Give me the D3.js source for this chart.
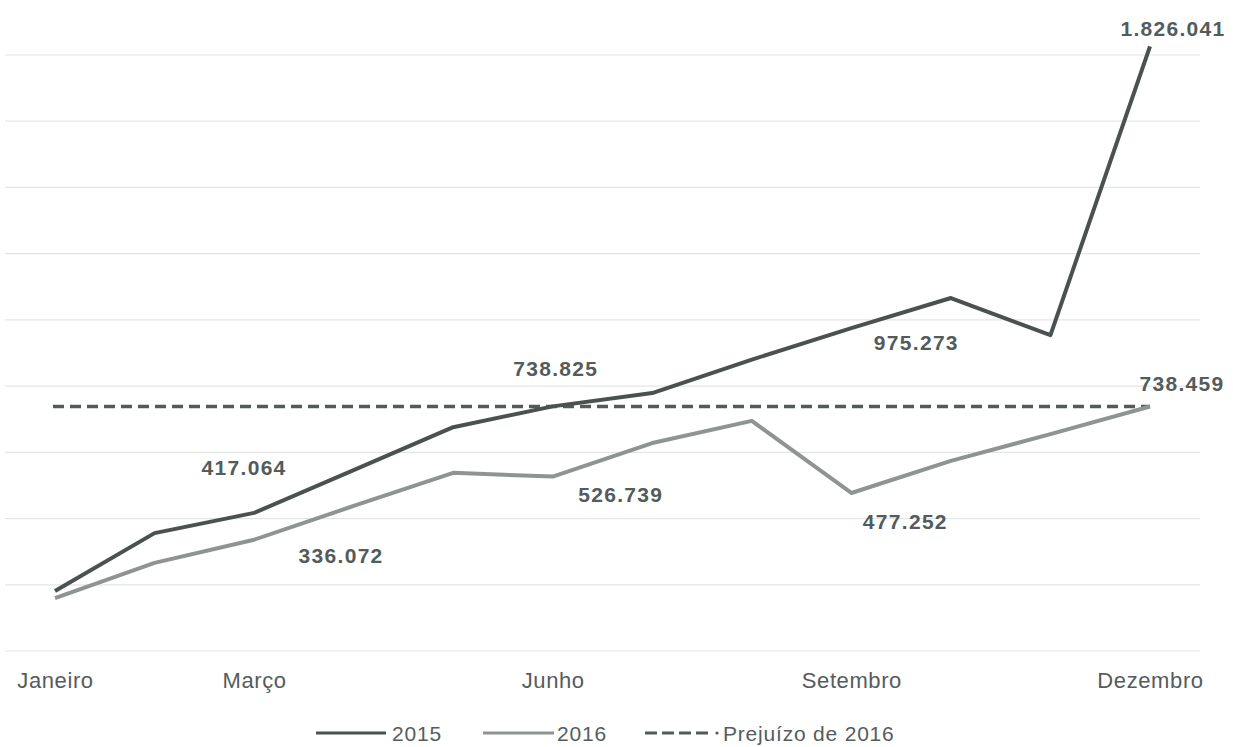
<!DOCTYPE html>
<html>
<head>
<meta charset="utf-8">
<script src="https://cdn.jsdelivr.net/npm/d3@7"></script>
<style>
  html, body { margin: 0; padding: 0; background: #fff; }
  svg { display: block; }
  text { font-family: "Liberation Sans", Arial, Helvetica, sans-serif; }
</style>
</head>
<body>
<svg id="chart" width="1233" height="747"></svg>
<script>
// Monthly values (R$)
const months = ["Janeiro", "Fevereiro", "Março", "Abril", "Maio", "Junho",
                "Julho", "Agosto", "Setembro", "Outubro", "Novembro", "Dezembro"];
const values2015 = [181000, 356000, 417064, 546000, 676000, 738825,
                    779000, 880000, 975273, 1066000, 954000, 1826041];
const values2016 = [160000, 266000, 336072, 438000, 538000, 526739,
                    628000, 695000, 477252, 574000, 655000, 738459];
const prejuizo2016 = 738459;
const shownMonths = ["Janeiro", "Março", "Junho", "Setembro", "Dezembro"];
const gridValues = [0, 200000, 400000, 600000, 800000, 1000000,
                    1200000, 1400000, 1600000, 1800000];
const legendLabels = ["2015", "2016", "Prejuízo de 2016"];

// Which points get a value label, and where the label sits relative to the point
const labelled = [
  { series: "2015", month: "Março",    dx: -10, dy: -45 },
  { series: "2016", month: "Março",    dx: 87,  dy: 16 },
  { series: "2015", month: "Junho",    dx: 3,   dy: -38 },
  { series: "2016", month: "Junho",    dx: 68,  dy: 18 },
  { series: "2015", month: "Setembro", dx: 65,  dy: 14 },
  { series: "2016", month: "Setembro", dx: 54,  dy: 29 },
  { series: "2015", month: "Dezembro", dx: 23,  dy: -18 },
  { series: "2016", month: "Dezembro", dx: 32,  dy: -23 }
];

const fmt = d3.formatLocale({ decimal: ",", thousands: ".", grouping: [3], currency: ["R$", ""] }).format(",d");

const svg = d3.select("#chart");

const x = d3.scalePoint().domain(months).range([55, 1150]);
const y = d3.scaleLinear().domain([0, 1800000]).range([651, 55]);

const col2015 = "#4b5151";
const col2016 = "#8f9393";
const colDash = "#535a5a";
const colText = "#535b5b";

// horizontal gridlines
svg.append("g")
  .selectAll("line")
  .data(gridValues)
  .join("line")
  .attr("x1", 5).attr("x2", 1200)
  .attr("y1", d => y(d)).attr("y2", d => y(d))
  .attr("stroke", "#e4e6e6")
  .attr("stroke-width", 1.2);

// month axis
const axis = svg.append("g")
  .attr("transform", `translate(0,${y(0)})`)
  .call(d3.axisBottom(x).tickValues(shownMonths).tickSize(0));
axis.select(".domain").remove();
axis.selectAll("text")
  .attr("y", 37).attr("dy", 0)
  .attr("fill", "#555c5c")
  .style("font-size", "22px")
  .style("letter-spacing", "0.6px")
  .style("font-family", "'Liberation Sans', Arial, sans-serif");

// loss reference line
svg.append("line")
  .attr("x1", x(months[0]) - 2).attr("x2", x(months[11]))
  .attr("y1", y(prejuizo2016)).attr("y2", y(prejuizo2016))
  .attr("stroke", colDash)
  .attr("stroke-width", 3.5)
  .attr("stroke-dasharray", "11,6");

const line = d3.line()
  .x((d, i) => x(months[i]))
  .y(d => y(d));

svg.append("path")
  .datum(values2016)
  .attr("d", line)
  .attr("fill", "none")
  .attr("stroke", col2016)
  .attr("stroke-width", 4)
  .attr("stroke-linejoin", "round");

svg.append("path")
  .datum(values2015)
  .attr("d", line)
  .attr("fill", "none")
  .attr("stroke", col2015)
  .attr("stroke-width", 4)
  .attr("stroke-linejoin", "round");

// value labels
const seriesData = { "2015": values2015, "2016": values2016 };
svg.append("g")
  .selectAll("text")
  .data(labelled)
  .join("text")
  .attr("x", d => x(d.month) + d.dx)
  .attr("y", d => y(seriesData[d.series][months.indexOf(d.month)]) + d.dy)
  .attr("text-anchor", "middle")
  .attr("dominant-baseline", "central")
  .attr("fill", colText)
  .style("font-size", "21px")
  .style("font-weight", "bold")
  .style("letter-spacing", "1.3px")
  .text(d => fmt(seriesData[d.series][months.indexOf(d.month)]));

// legend
const lg = svg.append("g").attr("transform", "translate(0,733)");
lg.append("line").attr("x1", 316).attr("x2", 386).attr("y1", 0).attr("y2", 0)
  .attr("stroke", col2015).attr("stroke-width", 3);
lg.append("text").attr("x", 392).attr("y", 7.5).text(legendLabels[0]);
lg.append("line").attr("x1", 483).attr("x2", 554).attr("y1", 0).attr("y2", 0)
  .attr("stroke", col2016).attr("stroke-width", 3);
lg.append("text").attr("x", 557).attr("y", 7.5).text(legendLabels[1]);
lg.append("line").attr("x1", 645).attr("x2", 713).attr("y1", 0).attr("y2", 0)
  .attr("stroke", colDash).attr("stroke-width", 3)
  .attr("stroke-dasharray", "12,5");
lg.append("circle").attr("cx", 717).attr("cy", 0).attr("r", 1.6).attr("fill", colDash);
lg.append("text").attr("x", 723).attr("y", 7.5).text(legendLabels[2]);
lg.selectAll("text")
  .attr("fill", "#555c5c")
  .style("font-size", "21px")
  .style("letter-spacing", "0.8px");
</script>
</body>
</html>
